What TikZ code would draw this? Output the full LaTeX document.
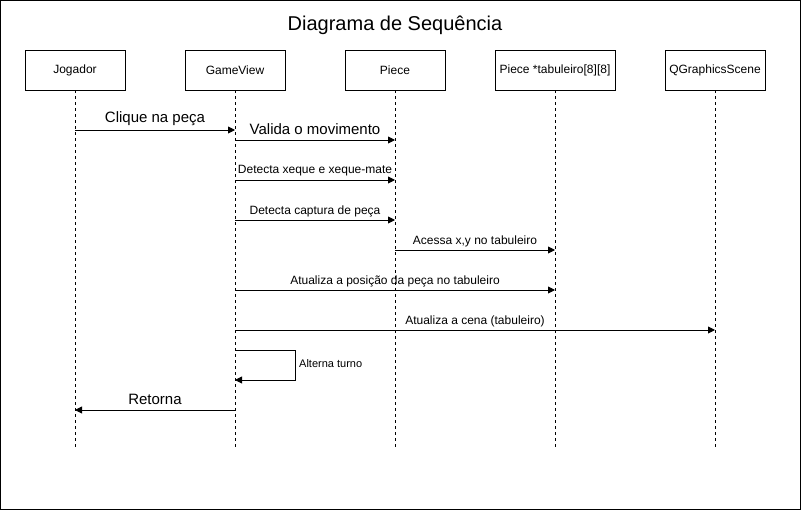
\documentclass[tikz,border=0pt]{standalone}
\usepackage{fontspec}
\setmainfont{Liberation Sans}
\usetikzlibrary{arrows.meta}
\begin{document}
\begin{tikzpicture}[x=1pt,y=-1pt,
  actor/.style={draw,line width=0.9pt,minimum width=100pt,minimum height=40pt,inner sep=0pt,font=\fontsize{12}{14}\selectfont},
  life/.style={line width=0.8pt,dash pattern=on 3pt off 3pt},
  msg/.style={line width=0.9pt,-{Triangle[length=7pt,width=7pt]}},
  biglbl/.style={inner sep=0pt,font=\fontsize{15}{17}\selectfont},
  smalllbl/.style={inner sep=0pt,font=\fontsize{12}{14}\selectfont},
  tinylbl/.style={inner sep=0pt,font=\fontsize{11}{13}\selectfont,anchor=west},
]
\useasboundingbox (0,0) rectangle (801,511);
\draw[line width=0.9pt] (0.5,0.5) rectangle (800,509.5);

\node[inner sep=0pt,font=\fontsize{20}{24}\selectfont] (title) at (395,25) {Diagrama de Sequência};

\node[actor] (jog) at (75,70) {Jogador};
\node[actor] (gv) at (235,70) {GameView};
\node[actor] (pc) at (395,70) {Piece};
\node[actor,minimum width=120pt] (tab) at (555,70) {Piece *tabuleiro[8][8]};
\node[actor] (qgs) at (715,70) {QGraphicsScene};

\coordinate (jogE) at (75,447);
\coordinate (gvE) at (235,447);
\coordinate (pcE) at (395,447);
\coordinate (tabE) at (555,447);
\coordinate (qgsE) at (715,447);
\draw[life] (jog) -- (jogE);
\draw[life] (gv) -- (gvE);
\draw[life] (pc) -- (pcE);
\draw[life] (tab) -- (tabE);
\draw[life] (qgs) -- (qgsE);

% messages
\coordinate (j1) at (75,130);  \coordinate (g1) at (235,130);
\draw[msg] (j1) -- (g1);
\node[biglbl] (l1) at (155,119) {Clique na peça};

\coordinate (g2) at (235,140); \coordinate (p2) at (395,140);
\draw[msg] (g2) -- (p2);
\node[biglbl] (l2) at (315,129) {Valida o movimento};

\coordinate (g3) at (235,180); \coordinate (p3) at (395,180);
\draw[msg] (g3) -- (p3);
\node[smalllbl] (l3) at (315,171) {Detecta xeque e xeque-mate};

\coordinate (g4) at (235,220); \coordinate (p4) at (395,220);
\draw[msg] (g4) -- (p4);
\node[smalllbl] (l4) at (315,211) {Detecta captura de peça};

\coordinate (p5) at (395,250); \coordinate (t5) at (555,250);
\draw[msg] (p5) -- (t5);
\node[smalllbl] (l5) at (475,241) {Acessa x,y no tabuleiro};

\coordinate (g6) at (235,290); \coordinate (t6) at (555,290);
\draw[msg] (g6) -- (t6);
\node[smalllbl] (l6) at (395,281) {Atualiza a posição da peça no tabuleiro};

\coordinate (g7) at (235,330); \coordinate (q7) at (715,330);
\draw[msg] (g7) -- (q7);
\node[smalllbl] (l7) at (475,321) {Atualiza a cena (tabuleiro)};

\coordinate (g8) at (235,350); \coordinate (g8b) at (235,380);
\draw[msg] (g8) -- (295,350) -- (295,380) -- (g8b);
\node[tinylbl] (l8) at (299,364) {Alterna turno};

\coordinate (g9) at (235,410); \coordinate (j9) at (75,410);
\draw[msg] (g9) -- (j9);
\node[biglbl] (l9) at (155,399) {Retorna};
\end{tikzpicture}
\end{document}
